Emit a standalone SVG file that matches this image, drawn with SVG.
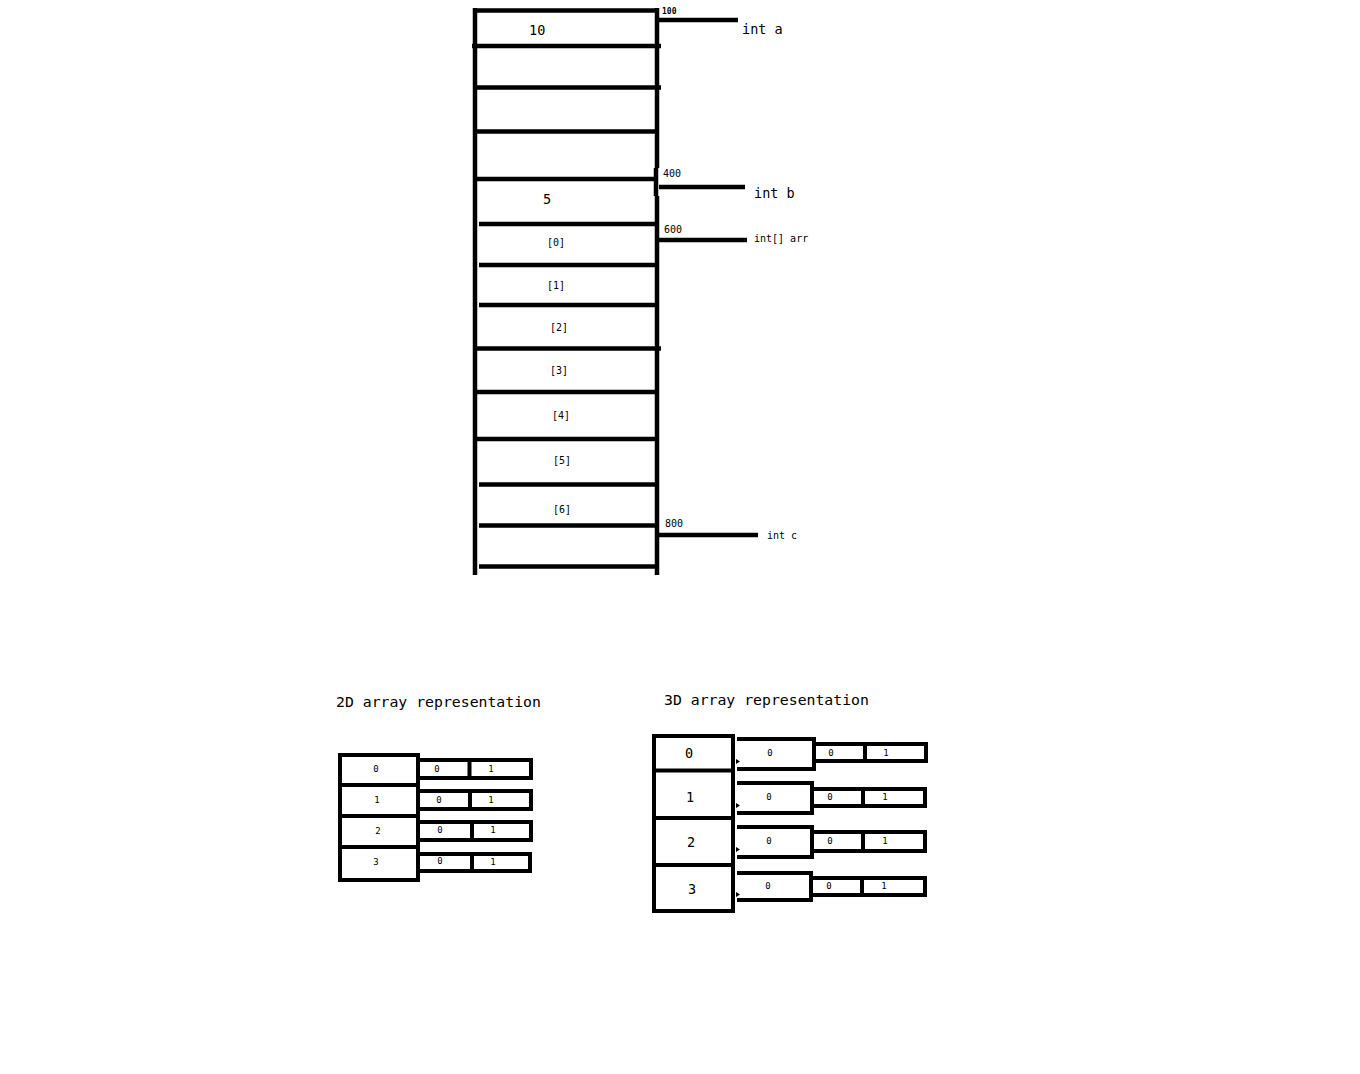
<svg xmlns="http://www.w3.org/2000/svg" width="1360" height="1074" viewBox="0 0 1360 1074">
<style>
.ln{stroke:#000;stroke-width:4.5;fill:none;stroke-linecap:butt}
.bx{stroke:#000;stroke-width:4;fill:none}
.t{font-family:"DejaVu Sans Mono","Liberation Mono",monospace;fill:#000}
.s14{font-size:13.5px}
.s10{font-size:10px}
.s9{font-size:9px}
.s8{font-size:8px;font-weight:bold}
.mid{text-anchor:middle}
</style>
<rect width="1360" height="1074" fill="#fff"/>
<g id="memory">
<line class="ln" x1="475" y1="8" x2="475" y2="575"/>
<line class="ln" x1="657" y1="8" x2="657" y2="168"/>
<line class="ln" x1="656" y1="168" x2="656" y2="196"/>
<line class="ln" x1="657" y1="196" x2="657" y2="575"/>
<line class="ln" x1="473" y1="10.5" x2="659" y2="10.5"/>
<line class="ln" x1="472" y1="46" x2="661" y2="46"/>
<line class="ln" x1="475" y1="87.5" x2="661" y2="87.5"/>
<line class="ln" x1="475" y1="131.5" x2="657" y2="131.5"/>
<line class="ln" x1="475" y1="179" x2="657" y2="179"/>
<line class="ln" x1="479" y1="224" x2="657" y2="224"/>
<line class="ln" x1="479" y1="265" x2="657" y2="265"/>
<line class="ln" x1="479" y1="305" x2="657" y2="305"/>
<line class="ln" x1="475" y1="348.5" x2="661" y2="348.5"/>
<line class="ln" x1="475" y1="392" x2="657" y2="392"/>
<line class="ln" x1="475" y1="439" x2="657" y2="439"/>
<line class="ln" x1="479" y1="484.5" x2="657" y2="484.5"/>
<line class="ln" x1="479" y1="525.5" x2="657" y2="525.5"/>
<line class="ln" x1="479" y1="566.5" x2="657" y2="566.5"/>
<text class="t s14" x="529" y="35">10</text>
<text class="t s14" x="543" y="204">5</text>
<text class="t s10 mid" x="556" y="246">[0]</text>
<text class="t s10 mid" x="556" y="289">[1]</text>
<text class="t s10 mid" x="559" y="331">[2]</text>
<text class="t s10 mid" x="559" y="374">[3]</text>
<text class="t s10 mid" x="561" y="419">[4]</text>
<text class="t s10 mid" x="562" y="464">[5]</text>
<text class="t s10 mid" x="562" y="513">[6]</text>
</g>
<g id="pointers">
<line class="ln" x1="659" y1="20" x2="738" y2="20"/>
<line class="ln" x1="659" y1="187" x2="745" y2="187"/>
<line class="ln" x1="659" y1="240" x2="747" y2="240"/>
<line class="ln" x1="659" y1="535" x2="758" y2="535"/>
<text class="t s8" x="662" y="14">100</text>
<text class="t s14" x="742" y="34">int a</text>
<text class="t s10" x="663" y="177">400</text>
<text class="t s14" x="754" y="198">int b</text>
<text class="t s10" x="664" y="233">600</text>
<text class="t s10" x="754" y="242">int[] arr</text>
<text class="t s10" x="665" y="527">800</text>
<text class="t s10" x="767" y="539">int c</text>
</g>
<g id="array2d">
<text class="t" style="font-size:14.8px" x="336" y="707">2D array representation</text>
<rect class="bx" x="340" y="755" width="78" height="125"/>
<line class="bx" x1="340" y1="785" x2="418" y2="785"/>
<line class="bx" x1="340" y1="816" x2="418" y2="816"/>
<line class="bx" x1="340" y1="847" x2="418" y2="847"/>
<path class="bx" d="M418 760H531V778H418M469.5 760V778"/>
<path class="bx" d="M418 791H531V809H418M470 791V809"/>
<path class="bx" d="M418 822H531V840H418M472 822V840"/>
<path class="bx" d="M418 854H530V871H418M472 854V871"/>
<text class="t s9 mid" x="376" y="772">0</text>
<text class="t s9 mid" x="377" y="803">1</text>
<text class="t s9 mid" x="378" y="834">2</text>
<text class="t s9 mid" x="376" y="865">3</text>
<text class="t s9 mid" x="437" y="772">0</text>
<text class="t s9 mid" x="491" y="772">1</text>
<text class="t s9 mid" x="439" y="803">0</text>
<text class="t s9 mid" x="491" y="803">1</text>
<text class="t s9 mid" x="440" y="833">0</text>
<text class="t s9 mid" x="493" y="833">1</text>
<text class="t s9 mid" x="440" y="864">0</text>
<text class="t s9 mid" x="493" y="865">1</text>
</g>
<g id="array3d">
<text class="t" style="font-size:14.8px" x="664" y="705">3D array representation</text>
<rect class="bx" x="654" y="736" width="79" height="175"/>
<line class="bx" x1="652" y1="770.5" x2="733" y2="770.5"/>
<line class="bx" x1="654" y1="818" x2="733" y2="818"/>
<line class="bx" x1="654" y1="865" x2="733" y2="865"/>
<path class="bx" d="M737 739H814V769H737"/>
<path class="bx" d="M737 783H812V813H737"/>
<path class="bx" d="M737 827H812V857H737"/>
<path class="bx" d="M737 873H811V900H737"/>
<path class="bx" d="M814 744H926V761H814M865 744V761"/>
<path class="bx" d="M812 789H925V806H812M863 789V806"/>
<path class="bx" d="M812 832H925V851H812M863 832V851"/>
<path class="bx" d="M811 878H925V895H811M862 878V895"/>
<path d="M736 759l4 2.5l-4 2.5z M736 803l4 2.5l-4 2.5z M736 847l4 2.5l-4 2.5z M736 892l4 2.5l-4 2.5z" fill="#000"/>
<text class="t s14 mid" x="689" y="758">0</text>
<text class="t s14 mid" x="690" y="802">1</text>
<text class="t s14 mid" x="691" y="847">2</text>
<text class="t s14 mid" x="692" y="894">3</text>
<text class="t s9 mid" x="770" y="756">0</text>
<text class="t s9 mid" x="769" y="800">0</text>
<text class="t s9 mid" x="769" y="844">0</text>
<text class="t s9 mid" x="768" y="889">0</text>
<text class="t s9 mid" x="831" y="756">0</text>
<text class="t s9 mid" x="886" y="756">1</text>
<text class="t s9 mid" x="830" y="800">0</text>
<text class="t s9 mid" x="885" y="800">1</text>
<text class="t s9 mid" x="830" y="844">0</text>
<text class="t s9 mid" x="885" y="844">1</text>
<text class="t s9 mid" x="829" y="889">0</text>
<text class="t s9 mid" x="884" y="889">1</text>
</g>
</svg>
